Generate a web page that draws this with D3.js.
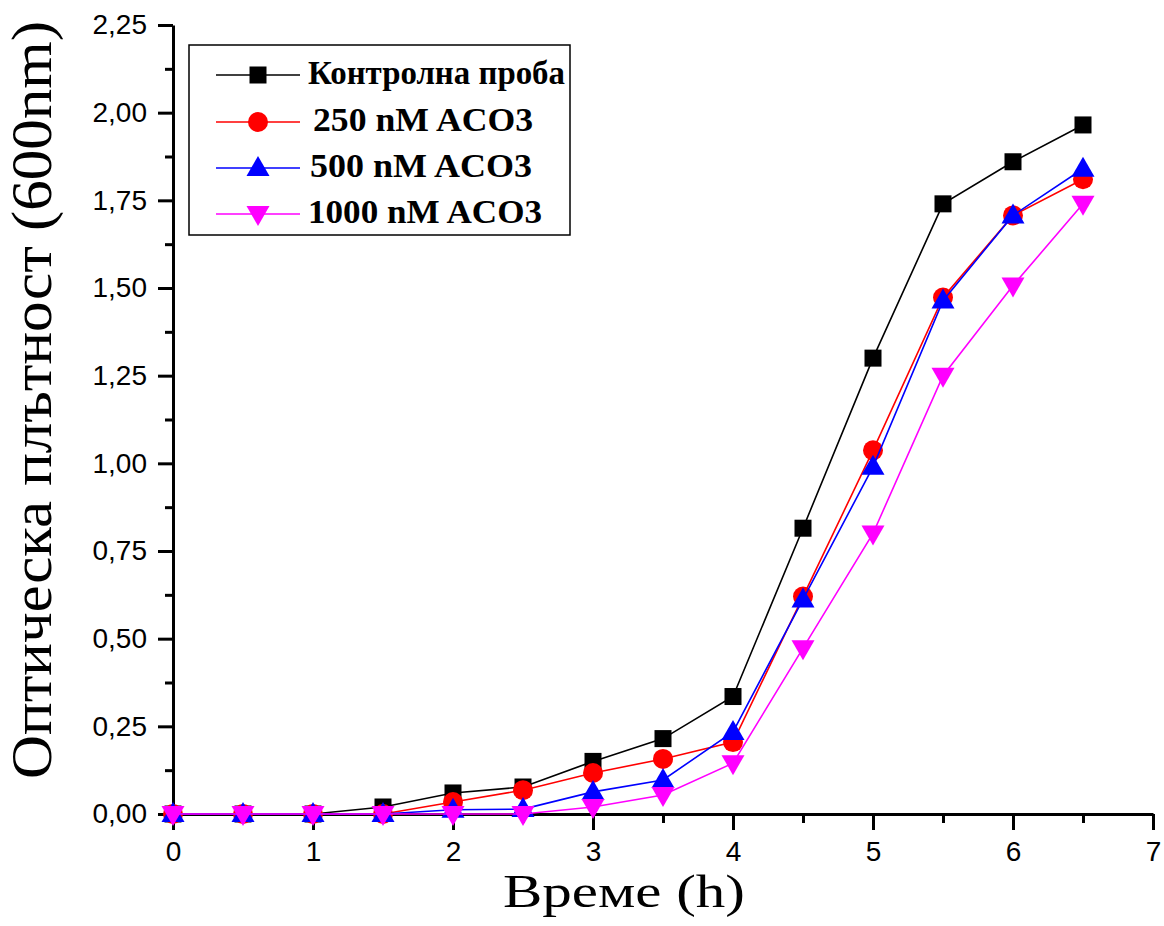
<!DOCTYPE html>
<html>
<head>
<meta charset="utf-8">
<script src="https://cdn.jsdelivr.net/npm/d3@7"></script>
<style>
  body { margin: 0; background: #fff; }
  svg { display: block; }
</style>
</head>
<body>
<svg id="chart" width="1164" height="926"></svg>
<script>
// time points (h)
const hours = [0, 0.5, 1, 1.5, 2, 2.5, 3, 3.5, 4, 4.5, 5, 5.5, 6, 6.5];

// optical density values per series
const control = [0, 0, 0, 0.02, 0.06, 0.077, 0.15, 0.215, 0.335, 0.815, 1.30, 1.74, 1.86, 1.965];
const aco250  = [0, 0, 0, 0, 0.034, 0.068, 0.117, 0.157, 0.205, 0.62, 1.037, 1.473, 1.707, 1.81];
const aco500  = [0, 0, 0, 0, 0.012, 0.014, 0.063, 0.097, 0.234, 0.612, 0.99, 1.464, 1.707, 1.84];
const aco1000 = [0, 0, 0, 0, 0, 0, 0.02, 0.054, 0.145, 0.473, 0.80, 1.25, 1.507, 1.74];

const seriesNames = ["Контролна проба", "250 nM ACO3", "500 nM ACO3", "1000 nM ACO3"];
const seriesColors = ["#000000", "#ff0000", "#0000ff", "#ff00ff"];
const seriesShapes = ["square", "circle", "triangle", "triangleDown"];
const seriesValues = [control, aco250, aco500, aco1000];

const xTicks = [0, 1, 2, 3, 4, 5, 6, 7];
const yTicks = [0, 0.25, 0.5, 0.75, 1.0, 1.25, 1.5, 1.75, 2.0, 2.25];

const svg = d3.select("#chart");
const margin = {left: 173, right: 11, top: 25, bottom: 112};
const width = 1164, height = 926;

const x = d3.scaleLinear().domain([0, 7]).range([margin.left, width - margin.right]);
const y = d3.scaleLinear().domain([0, 2.25]).range([height - margin.bottom, margin.top]);

const fmt = d => d3.format(".2f")(d).replace(".", ",");

// minor ticks first (separate axes, no labels)
svg.append("g")
   .attr("transform", `translate(${margin.left},0)`)
   .call(d3.axisLeft(y).tickValues(d3.range(0.125, 2.25, 0.25)).tickSize(8).tickFormat(""))
   .call(g => g.select(".domain").remove())
   .call(g => g.selectAll("line").attr("stroke-width", 3));

svg.append("g")
   .attr("transform", `translate(0,${y(0)})`)
   .call(d3.axisBottom(x).tickValues(d3.range(0.5, 7, 1)).tickSize(9).tickFormat(""))
   .call(g => g.select(".domain").remove())
   .call(g => g.selectAll("line").attr("stroke-width", 3));

// major axes
const yAxis = svg.append("g")
   .attr("transform", `translate(${margin.left},0)`)
   .call(d3.axisLeft(y).tickValues(yTicks).tickSize(15).tickPadding(11).tickSizeOuter(0).tickFormat(fmt));

const xAxis = svg.append("g")
   .attr("transform", `translate(0,${y(0)})`)
   .call(d3.axisBottom(x).tickValues(xTicks).tickSize(16).tickPadding(11).tickSizeOuter(0).tickFormat(d3.format("d")));

[yAxis, xAxis].forEach(a => {
  a.select(".domain").attr("stroke-width", 3);
  a.selectAll(".tick line").attr("stroke-width", 3);
  a.selectAll(".tick text")
   .attr("fill", "#000")
   .style("font-family", "'Liberation Sans', Arial, sans-serif")
   .style("font-size", "28px");
});

// axis titles
svg.append("text")
   .attr("transform", `translate(51,400) rotate(-90)`)
   .attr("text-anchor", "middle")
   .attr("textLength", 758)
   .attr("lengthAdjust", "spacingAndGlyphs")
   .style("font-family", "'Liberation Serif', 'Times New Roman', serif")
   .style("font-size", "56px")
   .text("Оптическа плътност (600nm)");

svg.append("text")
   .attr("x", 624)
   .attr("y", 907)
   .attr("text-anchor", "middle")
   .attr("textLength", 242)
   .attr("lengthAdjust", "spacingAndGlyphs")
   .style("font-family", "'Liberation Serif', 'Times New Roman', serif")
   .style("font-size", "47px")
   .text("Време (h)");

function drawMarker(sel, shape, color) {
  if (shape === "square") {
    sel.append("rect").attr("x", -8.5).attr("y", -8.5).attr("width", 17).attr("height", 17).attr("fill", color);
  } else if (shape === "circle") {
    sel.append("circle").attr("r", 10).attr("fill", color);
  } else if (shape === "triangle") {
    sel.append("path").attr("d", "M0,-12L11.5,8L-11.5,8Z").attr("fill", color);
  } else {
    sel.append("path").attr("d", "M0,12L11.5,-8L-11.5,-8Z").attr("fill", color);
  }
}

const line = d3.line().x(d => x(d[0])).y(d => y(d[1]));

seriesValues.forEach((vals, i) => {
  const pts = hours.map((h, j) => [h, vals[j]]);
  const g = svg.append("g");
  g.append("path")
   .attr("d", line(pts))
   .attr("fill", "none")
   .attr("stroke", seriesColors[i])
   .attr("stroke-width", 1.6);
  g.selectAll("g.pt")
   .data(pts)
   .join("g")
   .attr("class", "pt")
   .attr("transform", d => `translate(${x(d[0])},${y(d[1])})`)
   .each(function() { drawMarker(d3.select(this), seriesShapes[i], seriesColors[i]); });
});

// legend
const legend = svg.append("g");
legend.append("rect")
      .attr("x", 189).attr("y", 45).attr("width", 381).attr("height", 190)
      .attr("fill", "#fff").attr("stroke", "#000").attr("stroke-width", 1.5);

const rowY = [75, 122, 168, 214];
const textX = [308, 313, 310, 308];
const textW = [257, 220, 222, 234];
seriesNames.forEach((name, i) => {
  const r = legend.append("g").attr("transform", `translate(0,${rowY[i]})`);
  r.append("line").attr("x1", 216).attr("x2", 300).attr("y1", 0).attr("y2", 0)
   .attr("stroke", seriesColors[i]).attr("stroke-width", 1.6);
  drawMarker(r.append("g").attr("transform", "translate(258,0)"), seriesShapes[i], seriesColors[i]);
  r.append("text")
   .attr("x", textX[i])
   .attr("y", 9)
   .attr("textLength", textW[i])
   .attr("lengthAdjust", "spacingAndGlyphs")
   .style("font-family", "'Liberation Serif', 'Times New Roman', serif")
   .style("font-weight", "bold")
   .style("font-size", "33px")
   .text(name);
});
</script>
</body>
</html>
